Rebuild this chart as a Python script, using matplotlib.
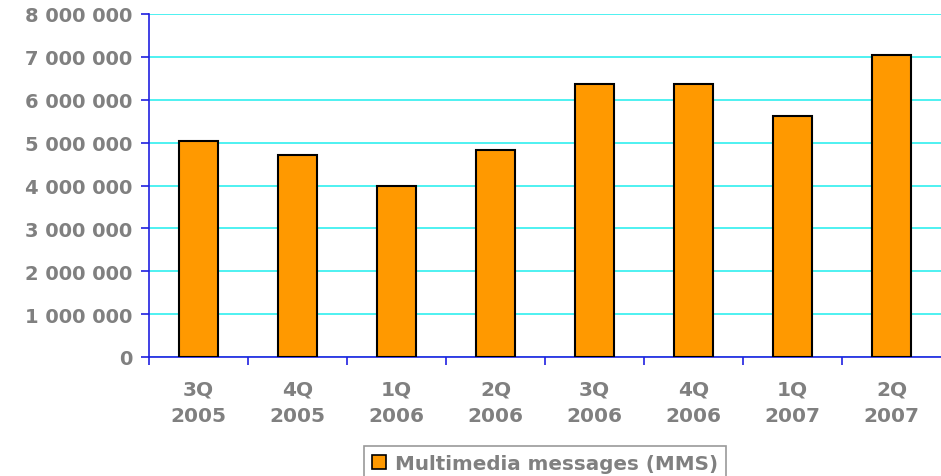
import matplotlib.pyplot as plt
from matplotlib.patches import Patch
from matplotlib.ticker import FuncFormatter, MultipleLocator

quarters = ["3Q\n2005", "4Q\n2005", "1Q\n2006", "2Q\n2006",
            "3Q\n2006", "4Q\n2006", "1Q\n2007", "2Q\n2007"]
mms = [5045000, 4720000, 3980000, 4830000, 6360000, 6360000, 5630000, 7050000]
series_name = "Multimedia messages (MMS)"

grey = "#808080"
orange = "#FF9900"
blue = "#2020E0"

fig = plt.figure(figsize=(9.41, 4.77), dpi=100)
ax = fig.add_axes([149 / 941, 1 - 358 / 477, 1 - 149 / 941, (358 - 15) / 477])

x = range(len(mms))
ax.bar(x, mms, width=0.4, color=orange, edgecolor="black", linewidth=1.5, zorder=3)

ax.set_xlim(-0.5, len(mms) - 0.5)
ax.set_ylim(0, 8000000)
ax.yaxis.set_major_locator(MultipleLocator(1000000))
ax.yaxis.set_major_formatter(FuncFormatter(lambda v, p: f"{int(v):,}".replace(",", " ")))
ax.grid(axis="y", color="#40F0F0", linewidth=1.3, zorder=0)

for s in ["top", "right"]:
    ax.spines[s].set_visible(False)
for s in ["left", "bottom"]:
    ax.spines[s].set_color(blue)
    ax.spines[s].set_linewidth(1.2)

ax.set_xticks(list(x))
ax.set_xticklabels(quarters, linespacing=1.5)
ax.set_xticks([i - 0.5 for i in range(len(mms))], minor=True)
ax.tick_params(axis="x", which="major", length=0, pad=16)
ax.tick_params(axis="x", which="minor", length=6, color=blue, width=1.2)
ax.tick_params(axis="y", length=6, color=blue, width=1.2, pad=6)
for lab in ax.get_xticklabels():
    lab.set_fontsize(14.5)
for lab in ax.get_yticklabels():
    lab.set_fontsize(14)
for lab in ax.get_xticklabels() + ax.get_yticklabels():
    lab.set_fontweight("bold")
    lab.set_color(grey)

handle = Patch(facecolor=orange, edgecolor="black", linewidth=1.2)
leg = fig.legend([handle], [series_name], loc="upper left",
                 bbox_to_anchor=(364 / 941, 1 - 447 / 477), frameon=True,
                 fancybox=False, handlelength=0.7, handleheight=0.7,
                 handletextpad=0.45, borderpad=0.4, borderaxespad=0,
                 prop={"size": 14.3, "weight": "bold"})
leg.get_frame().set_edgecolor(grey)
leg.get_frame().set_linewidth(1.2)
for t in leg.get_texts():
    t.set_color(grey)

fig.savefig("out.png", dpi=100)
